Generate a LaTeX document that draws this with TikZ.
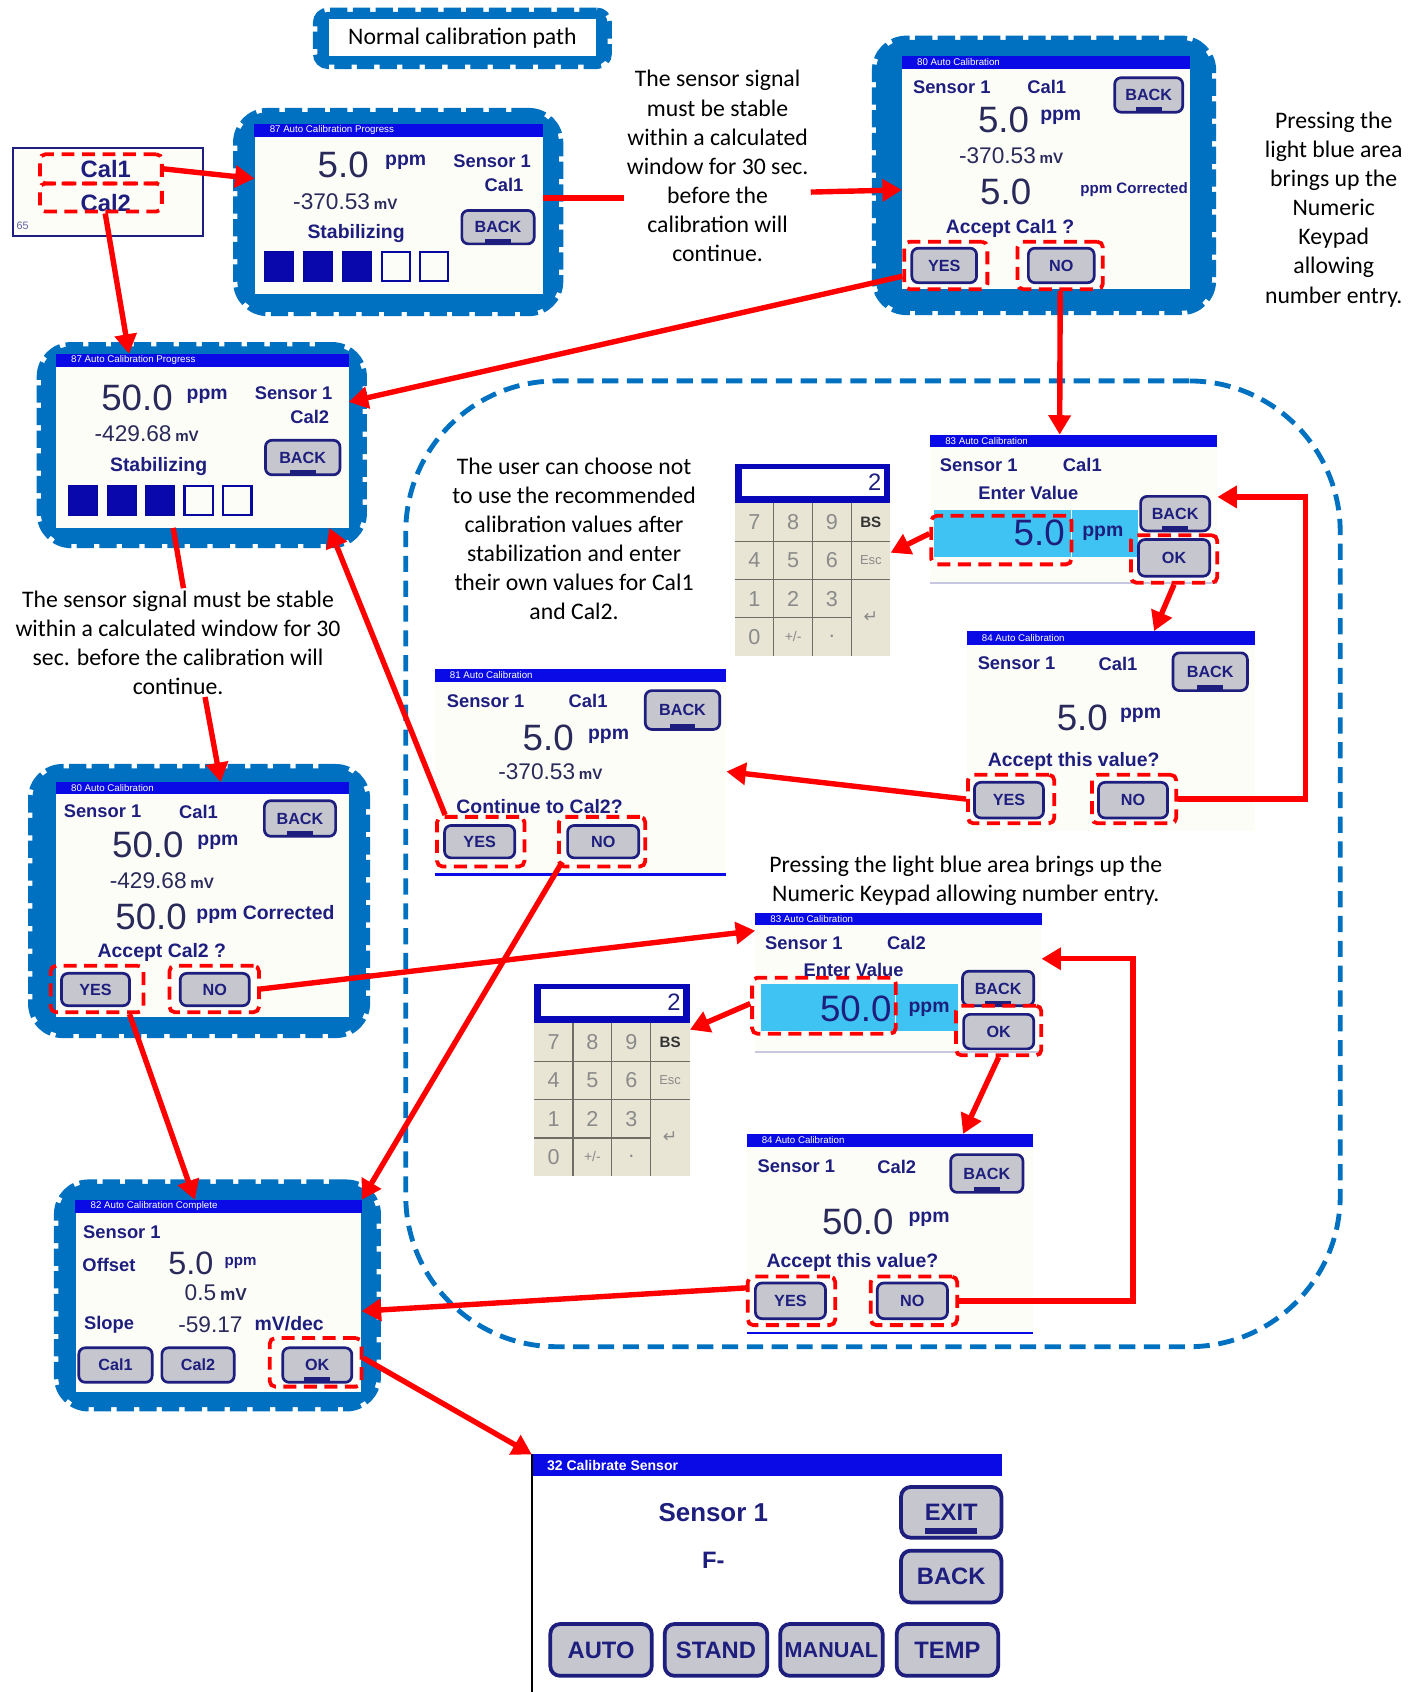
\documentclass[tikz,border=0pt]{standalone}
\usepackage{fontspec}
\setmainfont{Carlito}
\newfontfamily\ls{Liberation Sans}
\newfontfamily\djv{DejaVu Sans}
\usetikzlibrary{arrows.meta,calc}
\definecolor{frameblue}{HTML}{0070C0}
\definecolor{navy}{HTML}{1E1E7E}
\definecolor{digit}{HTML}{2A2A5A}
\definecolor{titleblue}{HTML}{0A0AE6}
\definecolor{btngrey}{HTML}{C6C6CE}
\definecolor{fieldblue}{HTML}{3EC3F2}
\definecolor{keybeige}{HTML}{E8E5D4}
\definecolor{keyline}{HTML}{6E6E66}
\definecolor{keytxt}{HTML}{8A8A8A}
\definecolor{scrbg}{HTML}{FDFDF8}
\tikzset{
  frame/.style={fill=frameblue, draw=frameblue, line width=8pt, dash pattern=on 16pt off 5pt, rounded corners=28pt, inner sep=0},
  scr/.style={fill=scrbg, inner sep=0},
  lbl/.style={text=navy, font=\ls\bfseries\fontsize{17}{17}\selectfont, inner sep=0},
  unit/.style={text=navy, font=\ls\bfseries\fontsize{18}{18}\selectfont, inner sep=0},
  big/.style={text=digit, font=\ls\fontsize{34}{34}\selectfont, inner sep=0},
  mid/.style={text=digit, font=\ls\fontsize{21}{21}\selectfont, inner sep=0},
  ttext/.style={text=white, font=\ls\fontsize{9}{9}\selectfont, inner sep=0},
  btn/.style={draw=navy, line width=2.5pt, fill=btngrey, rounded corners=6pt, text=navy, font=\ls\bfseries\fontsize{15}{15}\selectfont, inner sep=0},
  bigbtn/.style={btn, line width=3.5pt, rounded corners=9pt, font=\ls\bfseries\fontsize{22}{22}\selectfont},
  rdash/.style={draw=red, line width=3.5pt, dash pattern=on 12pt off 7pt, rounded corners=5pt, inner sep=0},
  note/.style={align=center, font=\fontsize{22}{27}\selectfont, inner sep=2pt},
  arr/.style={draw=red, line width=5pt, -{Triangle[length=18pt,width=20pt]}},
  lin/.style={draw=red, line width=5pt},
  sq/.style={draw=titleblue!70!black, line width=2pt, minimum width=26pt, minimum height=27pt, inner sep=0},
  sqf/.style={sq, fill=titleblue!75!black},
  kdig/.style={text=keytxt, font=\ls\fontsize{20}{20}\selectfont, inner sep=0},
  kbs/.style={text=black!80, font=\ls\bfseries\fontsize{14}{14}\selectfont, inner sep=0},
}
\newcommand\tbarx[3]{%
  \fill[titleblue] (#1.north west) rectangle ([yshift=-#2pt]#1.north east);
  \node[ttext, anchor=west] (#1t) at ([xshift=14pt,yshift=-0.5*#2pt]#1.north west) {#3};
}
\newcommand\backbar[1]{\fill[navy] ([xshift=-12pt,yshift=2pt]#1.south) rectangle ([xshift=12pt,yshift=6pt]#1.south);}
\newcommand\kpad[3]{%
  \node[fill=keybeige, minimum width=144pt, minimum height=178pt, anchor=north west, inner sep=0] (#1) at (#2,#3) {};
  \fill[titleblue!80!black] (#2,#3) rectangle (#2+144,#3+36);
  \node[fill=white, minimum width=132pt, minimum height=25pt, anchor=north west, inner sep=0] (#1d) at (#2+6,#3+4) {};
  \node[anchor=east, text=navy, font=\ls\fontsize{22}{22}\selectfont, inner sep=0] (#1v) at (#2+136,#3+17) {2};
  \draw[keyline, line width=1.2pt] (#2+36,#3+36) -- (#2+36,#3+178) (#2+72,#3+36) -- (#2+72,#3+178) (#2+108,#3+36) -- (#2+108,#3+178)
     (#2,#3+71.5) -- (#2+144,#3+71.5) (#2,#3+107) -- (#2+144,#3+107) (#2,#3+142.5) -- (#2+108,#3+142.5);
  \node[kdig] (#1k7) at (#2+18,#3+54) {7};
  \node[kdig] (#1k8) at (#2+54,#3+54) {8};
  \node[kdig] (#1k9) at (#2+90,#3+54) {9};
  \node[kbs] (#1kb) at (#2+126,#3+54) {BS};
  \node[kdig] (#1k4) at (#2+18,#3+89) {4};
  \node[kdig] (#1k5) at (#2+54,#3+89) {5};
  \node[kdig] (#1k6) at (#2+90,#3+89) {6};
  \node[kdig, font=\ls\fontsize{12}{12}\selectfont] (#1ke) at (#2+126,#3+89) {Esc};
  \node[kdig] (#1k1) at (#2+18,#3+125) {1};
  \node[kdig] (#1k2) at (#2+54,#3+125) {2};
  \node[kdig] (#1k3) at (#2+90,#3+125) {3};
  \node[kdig] (#1k0) at (#2+18,#3+160) {0};
  \node[kdig, font=\ls\fontsize{13}{13}\selectfont] (#1kp) at (#2+54,#3+160) {+/-};
  \node[kdig] (#1kd) at (#2+90,#3+160) {.};
  \node[kdig, font=\djv\fontsize{16}{16}\selectfont] (#1kr) at (#2+126,#3+142) {↵};
}
\begin{document}
\begin{tikzpicture}[x=1pt,y=-1pt]
\useasboundingbox (0,0) rectangle (1319,1568);

% big dashed region
\node[draw=frameblue, line width=4.5pt, dash pattern=on 15pt off 8pt, rounded corners=140pt, minimum width=866pt, minimum height=895pt, inner sep=0] (reg) at (809,800.5) {};

% Normal calibration path
\node[frame, rounded corners=10pt, minimum width=269pt, minimum height=49pt] (fncp) at (428.5,35.5) {};
\node[fill=white, minimum width=247pt, minimum height=34pt, inner sep=0, font=\fontsize{22}{24}\selectfont] (ncp) at (428.5,35) {Normal calibration path};

% small Cal1/Cal2 box
\node[draw=navy, line width=2pt, fill=scrbg, minimum width=176pt, minimum height=82pt, inner sep=0] (calbox) at (100,178) {};
\node[lbl, font=\ls\bfseries\fontsize{22}{22}\selectfont] (c1) at (98,157) {Cal1};
\node[lbl, font=\ls\bfseries\fontsize{22}{22}\selectfont] (c2) at (98,188) {Cal2};
\node[text=navy!70, font=\ls\fontsize{10}{10}\selectfont, inner sep=0] (c65) at (21,209) {65};
\node[rdash, minimum width=113pt, minimum height=27pt] (rdc1) at (93.5,156.5) {};
\node[rdash, minimum width=113pt, minimum height=26pt] (rdc2) at (93.5,183) {};

% ---------- screen 87a
\node[frame, minimum width=298pt, minimum height=185pt] (f87a) at (369,196.5) {};
\node[scr, minimum width=267pt, minimum height=157pt] (s87a) at (369.5,193.5) {};
\tbarx{s87a}{12}{87  Auto Calibration Progress}
\node[big] (a87n) at (318,153) {5.0};
\node[unit] (a87u) at (376,150) {ppm};
\node[lbl] (a87s) at (456,149) {Sensor 1};
\node[lbl] (a87c) at (467,171) {Cal1};
\node[mid] (a87m) at (320,187) {-370.53\,{\bfseries\fontsize{14}{14}\selectfont mV}};
\node[unit] (a87st) at (330,216) {Stabilizing};
\node[btn, minimum width=67pt, minimum height=31pt] (b87a) at (461.5,210.5) {BACK};
\backbar{b87a}
\node[sqf] (q1a) at (258.5,247) {};
\node[sqf] (q2a) at (295,247) {};
\node[sqf] (q3a) at (331,247) {};
\node[sq] (q4a) at (367,247) {};
\node[sq] (q5a) at (402.5,247) {};

% ---------- screen 87b
\node[frame, minimum width=298pt, minimum height=183pt] (f87b) at (187,412.5) {};
\node[scr, minimum width=271pt, minimum height=161pt] (s87b) at (187.5,408.5) {};
\tbarx{s87b}{12}{87  Auto Calibration Progress}
\node[big] (b87n) at (127,369) {50.0};
\node[unit] (b87u) at (192,367) {ppm};
\node[lbl] (b87s) at (272,364) {Sensor 1};
\node[lbl] (b87c) at (287,386) {Cal2};
\node[mid] (b87m) at (136,402) {-429.68\,{\bfseries\fontsize{14}{14}\selectfont mV}};
\node[unit] (b87st) at (147,432) {Stabilizing};
\node[btn, minimum width=69pt, minimum height=32pt] (b87b) at (280.5,424) {BACK};
\backbar{b87b}
\node[sqf] (q1b) at (77,464) {};
\node[sqf] (q2b) at (113,464) {};
\node[sqf] (q3b) at (148,464) {};
\node[sq] (q4b) at (184,464) {};
\node[sq] (q5b) at (220,464) {};

% ---------- screen 80a
\node[frame, minimum width=311pt, minimum height=251pt] (f80a) at (967.5,162.5) {};
\node[scr, minimum width=267pt, minimum height=216pt] (s80a) at (969.5,160) {};
\tbarx{s80a}{12}{80  Auto Calibration}
\node[lbl] (a80s) at (882,81) {Sensor 1};
\node[lbl] (a80c) at (970,81) {Cal1};
\node[btn, minimum width=63pt, minimum height=32pt] (b80a) at (1064.5,88) {BACK};
\backbar{b80a}
\node[big] (a80n) at (930,111) {5.0};
\node[unit] (a80u) at (983,109) {ppm};
\node[mid] (a80m) at (937,144) {-370.53\,{\bfseries\fontsize{14}{14}\selectfont mV}};
\node[big] (a80n2) at (932,178) {5.0};
\node[unit, font=\ls\bfseries\fontsize{14}{14}\selectfont] (a80u2) at (1051,176) {ppm Corrected};
\node[unit] (a80q) at (936,212) {Accept Cal1 ?};
\node[btn, minimum width=60pt, minimum height=32pt] (y80a) at (875,246) {YES};
\node[btn, minimum width=61pt, minimum height=32pt] (n80a) at (983.5,246) {NO};
\node[rdash, minimum width=77pt, minimum height=44pt] (ry80a) at (876.5,246) {};
\node[rdash, minimum width=79pt, minimum height=44pt] (rn80a) at (982.5,246) {};

% ---------- screen 80b
\node[frame, minimum width=309pt, minimum height=246pt] (f80b) at (184.5,835) {};
\node[scr, minimum width=271pt, minimum height=217pt] (s80b) at (187.5,833.5) {};
\tbarx{s80b}{11}{80  Auto Calibration}
\node[lbl] (b80s) at (95,752) {Sensor 1};
\node[lbl] (b80c) at (184,752) {Cal1};
\node[btn, minimum width=66pt, minimum height=33pt] (b80b) at (278,758.5) {BACK};
\backbar{b80b}
\node[big] (b80n) at (137,783) {50.0};
\node[unit] (b80u) at (202,781) {ppm};
\node[mid] (b80m) at (150,816) {-429.68\,{\bfseries\fontsize{14}{14}\selectfont mV}};
\node[big] (b80n2) at (140,850) {50.0};
\node[unit] (b80u2) at (246,847) {ppm Corrected};
\node[unit] (b80q) at (150,883) {Accept Cal2 ?};
\node[btn, minimum width=63pt, minimum height=30pt] (y80b) at (88.5,917) {YES};
\node[btn, minimum width=64pt, minimum height=30pt] (n80b) at (199,917) {NO};
\node[rdash, minimum width=86pt, minimum height=43pt] (ry80b) at (90,916.5) {};
\node[rdash, minimum width=83pt, minimum height=43pt] (rn80b) at (198.5,916.5) {};

% ---------- screen 82
\node[frame, minimum width=295pt, minimum height=207pt] (f82) at (201.5,1200.5) {};
\node[scr, minimum width=265pt, minimum height=178pt] (s82) at (202.5,1201) {};
\tbarx{s82}{12}{82  Auto Calibration Complete}
\node[lbl] (c82s) at (113,1142) {Sensor 1};
\node[lbl] (c82o) at (101,1172) {Offset};
\node[big, font=\ls\fontsize{30}{30}\selectfont] (c82n) at (177,1171) {5.0};
\node[unit, font=\ls\bfseries\fontsize{14}{14}\selectfont] (c82u) at (223,1170) {ppm};
\node[mid] (c82m) at (200,1198) {0.5\,{\bfseries\fontsize{16}{16}\selectfont mV}};
\node[lbl] (c82sl) at (101,1228) {Slope};
\node[mid] (c82v) at (195,1228) {-59.17};
\node[unit] (c82d) at (268,1227) {mV/dec};
\node[btn, minimum width=68pt, minimum height=32pt] (c82c1) at (107,1265) {Cal1};
\node[btn, minimum width=67pt, minimum height=32pt] (c82c2) at (183.5,1265) {Cal2};
\node[btn, minimum width=64pt, minimum height=32pt] (c82ok) at (294,1265) {OK};
\backbar{c82ok}
\node[rdash, minimum width=85pt, minimum height=45pt] (rok82) at (292.5,1262.5) {};

% ---------- screen 83a (Cal1 enter value)
\node[scr, minimum width=266pt, minimum height=137pt] (s83a) at (995,471.5) {};
\tbarx{s83a}{11}{83  Auto Calibration}
\draw[navy!25, line width=2pt] (s83a.south west) -- (s83a.south east);
\node[lbl] (e1s) at (907,431) {Sensor 1};
\node[lbl] (e1c) at (1003,431) {Cal1};
\node[lbl] (e1e) at (953,457) {Enter Value};
\node[fill=fieldblue, minimum width=189pt, minimum height=43pt, inner sep=0] (e1f) at (960.5,494.5) {};
\draw[white, line width=1.5pt] ([xshift=127pt]e1f.north west) -- ([xshift=127pt]e1f.south west);
\node[big, text=navy] (e1n) at (963,494) {5.0};
\node[unit] (e1u) at (1022,494) {ppm};
\node[btn, minimum width=64pt, minimum height=32pt] (e1b) at (1089,476) {BACK};
\backbar{e1b}
\node[btn, minimum width=66pt, minimum height=34pt] (e1o) at (1088,517) {OK};
\node[rdash, minimum width=130pt, minimum height=45pt] (e1rv) at (928,500.5) {};
\node[rdash, minimum width=80pt, minimum height=44pt] (e1ro) at (1088,518) {};

% ---------- screen 84a
\node[scr, minimum width=267pt, minimum height=185pt] (s84a) at (1029.5,677.5) {};
\tbarx{s84a}{13}{84  Auto Calibration}
\node[lbl] (f1s) at (942,615) {Sensor 1};
\node[lbl] (f1c) at (1036,615) {Cal1};
\node[btn, minimum width=69pt, minimum height=35pt] (f1b) at (1121.5,622.5) {BACK};
\backbar{f1b}
\node[big] (f1n) at (1003,665) {5.0};
\node[unit] (f1u) at (1057,663) {ppm};
\node[unit] (f1q) at (995,706) {Accept this value?};
\node[btn, minimum width=64pt, minimum height=33pt] (f1y) at (935,741.5) {YES};
\node[btn, minimum width=64pt, minimum height=33pt] (f1no) at (1050,741.5) {NO};
\node[rdash, minimum width=80pt, minimum height=45pt] (ry84a) at (937,740.5) {};
\node[rdash, minimum width=78pt, minimum height=45pt] (rn84a) at (1051,740.5) {};

% ---------- screen 81
\node[scr, minimum width=270pt, minimum height=190pt] (s81) at (538,715) {};
\tbarx{s81}{12}{81  Auto Calibration}
\draw[titleblue, line width=2.5pt] (s81.south west) -- (s81.south east);
\node[lbl] (g1s) at (450,650) {Sensor 1};
\node[lbl] (g1c) at (545,650) {Cal1};
\node[btn, minimum width=69pt, minimum height=36pt] (g1b) at (632.5,658) {BACK};
\backbar{g1b}
\node[big] (g1n) at (508,684) {5.0};
\node[unit] (g1u) at (564,682) {ppm};
\node[mid] (g1m) at (510,715) {-370.53\,{\bfseries\fontsize{14}{14}\selectfont mV}};
\node[unit] (g1q) at (500,747) {Continue to Cal2?};
\node[btn, minimum width=65pt, minimum height=30pt] (g1y) at (444.5,780) {YES};
\node[btn, minimum width=66pt, minimum height=30pt] (g1no) at (559,780) {NO};
\node[rdash, minimum width=81pt, minimum height=46pt] (ry81) at (445.5,780) {};
\node[rdash, minimum width=80pt, minimum height=46pt] (rn81) at (558,780) {};

% ---------- screen 83b (Cal2 enter value)
\node[scr, minimum width=265pt, minimum height=129pt] (s83b) at (832.5,910.5) {};
\tbarx{s83b}{11}{83  Auto Calibration}
\draw[navy!25, line width=2pt] (s83b.south west) -- (s83b.south east);
\node[lbl] (e2s) at (745,874) {Sensor 1};
\node[lbl] (e2c) at (840,874) {Cal2};
\node[lbl] (e2e) at (791,899) {Enter Value};
\node[fill=fieldblue, minimum width=183pt, minimum height=43pt, inner sep=0] (e2f) at (796.5,933.5) {};
\draw[white, line width=1.5pt] ([xshift=125pt]e2f.north west) -- ([xshift=125pt]e2f.south west);
\node[big, text=navy] (e2n) at (793,935) {50.0};
\node[unit] (e2u) at (861,935) {ppm};
\node[btn, minimum width=66pt, minimum height=32pt] (e2b) at (925,916) {BACK};
\backbar{e2b}
\node[btn, minimum width=65pt, minimum height=32pt] (e2o) at (925.5,956) {OK};
\node[rdash, minimum width=133pt, minimum height=52pt] (e2rv) at (763.5,932) {};
\node[rdash, minimum width=79pt, minimum height=46pt] (e2ro) at (925.5,955) {};

% ---------- screen 84b
\node[scr, minimum width=265pt, minimum height=184pt] (s84b) at (824.5,1143) {};
\tbarx{s84b}{12}{84  Auto Calibration}
\draw[titleblue, line width=2.5pt] (s84b.south west) -- (s84b.south east);
\node[lbl] (f2s) at (738,1081) {Sensor 1};
\node[lbl] (f2c) at (831,1081) {Cal2};
\node[btn, minimum width=67pt, minimum height=35pt] (f2b) at (914.5,1087.5) {BACK};
\backbar{f2b}
\node[big] (f2n) at (795,1132) {50.0};
\node[unit] (f2u) at (861,1130) {ppm};
\node[unit] (f2q) at (790,1170) {Accept this value?};
\node[btn, minimum width=65pt, minimum height=33pt] (f2y) at (732.5,1205.5) {YES};
\node[btn, minimum width=65pt, minimum height=33pt] (f2no) at (845.5,1205.5) {NO};
\node[rdash, minimum width=81pt, minimum height=45pt] (ry84b) at (733.5,1205.5) {};
\node[rdash, minimum width=80pt, minimum height=45pt] (rn84b) at (847,1205.5) {};

% ---------- keypads
\kpad{kp1}{681}{430}
\kpad{kp2}{495}{912}

% ---------- screen 32
\node[scr, fill=white, minimum width=435pt, minimum height=220pt] (s32) at (710.5,1458) {};
\tbarx{s32}{20}{\bfseries\fontsize{13}{13}\selectfont 32  Calibrate Sensor}
\draw[black, line width=1.5pt] (s32.north west) -- (s32.south west);
\node[lbl, font=\ls\bfseries\fontsize{24}{24}\selectfont] (h1) at (661,1402) {Sensor 1};
\node[lbl, font=\ls\bfseries\fontsize{22}{22}\selectfont] (h2) at (661,1446) {F-};
\node[bigbtn, minimum width=93pt, minimum height=47pt] (hexit) at (881.5,1401.5) {EXIT};
\fill[navy] ([xshift=-24pt,yshift=5pt]hexit.south) rectangle ([xshift=24pt,yshift=11pt]hexit.south);
\node[bigbtn, minimum width=93pt, minimum height=48pt] (hback) at (881.5,1461) {BACK};
\node[bigbtn, minimum width=94pt, minimum height=48pt] (hauto) at (557,1529) {AUTO};
\node[bigbtn, minimum width=95pt, minimum height=48pt] (hstand) at (663.5,1529) {STAND};
\node[bigbtn, minimum width=95pt, minimum height=48pt, font=\ls\bfseries\fontsize{20}{20}\selectfont] (hman) at (770.5,1529) {MANUAL};
\node[bigbtn, minimum width=94pt, minimum height=48pt] (htemp) at (878,1529) {TEMP};

% ---------- notes
\node[note] (t1) at (665,154) {The sensor signal\\must be stable\\within a calculated\\window for 30 sec.\\before the\\calibration will\\continue.};
\node[note] (t2) at (165,595.5) {The sensor signal must be stable\\within a calculated window for 30\\sec. before the calibration will\\continue.};
\node[note] (t3) at (1236,194) {Pressing the\\light blue area\\brings up the\\Numeric\\Keypad\\allowing\\number entry.};
\node[note] (t4) at (532,499.5) {The user can choose not\\to use the recommended\\calibration values after\\stabilization and enter\\their own values for Cal1\\and Cal2.};
\node[note] (t5) at (895,816.5) {Pressing the light blue area brings up the\\Numeric Keypad allowing number entry.};

% ---------- connectors
\coordinate (p1) at ([yshift=10pt]s87a.east);
\coordinate (lp1) at (1210,0);
\coordinate (lp2) at (1050,0);
\draw[arr] (rdc1.east) -- ([yshift=28pt]s87a.west);
\draw[arr] ([xshift=4pt]rdc2.south) -- ([xshift=-68pt]s87b.north);
\draw[lin] (p1) -- (p1 -| t1.west);
\draw[arr] ([yshift=-24pt]t1.east) -- ([yshift=-16pt]s80a.west);
\draw[arr] ([yshift=-10pt]ry80a.west) -- ([yshift=36pt]s87b.east);
\draw[arr] (rn80a.south) -- ([xshift=-13pt]s83a.north);
\draw[lin] ([xshift=-27pt]s87b.south) -- ([xshift=5pt]t2.north);
\draw[arr] ([xshift=25pt]t2.south) -- ([xshift=17pt]s80b.north);
\draw[arr] ([xshift=30pt]ry80b.south) -- ([xshift=-22pt]s82.north);
\draw[arr] (rn80b.east) -- ([yshift=48pt]s83b.west);
\draw[arr] ([yshift=6pt]e1rv.west) -- ([yshift=7pt]kp1.east);
\draw[arr] (e1ro.south) -- ([xshift=40pt]s84a.north);
\draw[arr] (rn84a.east) -- (rn84a.east -| lp1) |- ([yshift=11pt]s83a.east);
\draw[arr] (ry84a.west) -- (s81.east);
\draw[arr] ([xshift=-33pt]ry81.north) -- ([xshift=-18pt]s87b.south east);
\draw[arr] ([xshift=-37pt,yshift=6pt]rn81.south) -- (s82.north east);
\draw[arr] ([yshift=2pt]e2rv.west) -- ([yshift=47pt]kp2.east);
\draw[arr] (e2ro.south) -- ([xshift=68pt]s84b.north);
\draw[arr] (rn84b.east) -- (rn84b.east -| lp2) |- ([yshift=22pt]s83b.east);
\draw[arr] ([yshift=12pt]ry84b.west) -- ([yshift=-14pt]s82.east);
\draw[arr] ([yshift=4pt]rok82.east) -- (s32.north west);
\end{tikzpicture}
\end{document}
